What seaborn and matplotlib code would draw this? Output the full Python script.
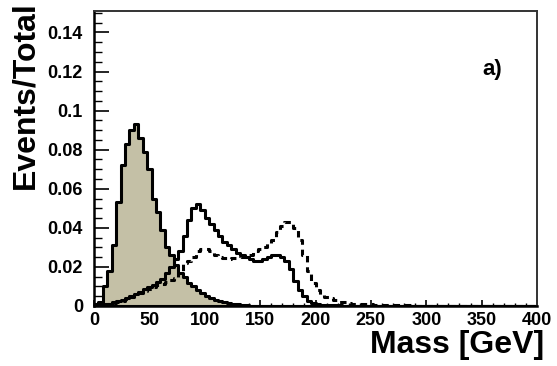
import numpy as np
import pandas as pd
import seaborn as sns
import matplotlib
matplotlib.use("Agg")
import matplotlib.pyplot as plt
from matplotlib.ticker import MultipleLocator, FuncFormatter

# 4 GeV bins from 0 to 400 GeV
bin_width = 4
mass_range = (0, 400)

# Shaded distribution (normalised to unit area)
shaded = [
    0.001, 0.002, 0.010, 0.018, 0.031, 0.053, 0.072, 0.083, 0.090, 0.093,
    0.086, 0.079, 0.070, 0.055, 0.048, 0.039, 0.030, 0.026, 0.021, 0.017,
    0.015, 0.012, 0.010, 0.008, 0.0065, 0.005, 0.004, 0.003, 0.0025, 0.002,
    0.0015, 0.001, 0.0008, 0.0005, 0.0003,
]

# Solid-line distribution
solid = [
    0.0, 0.0003, 0.0008, 0.0012, 0.0018, 0.0025, 0.0032, 0.0042, 0.0052, 0.0062,
    0.0072, 0.0085, 0.0098, 0.011, 0.0125, 0.014, 0.017, 0.020, 0.024, 0.028,
    0.036, 0.044, 0.050, 0.052, 0.049, 0.045, 0.042, 0.039, 0.036, 0.033,
    0.031, 0.029, 0.027, 0.026, 0.025, 0.024, 0.023, 0.023, 0.024, 0.025,
    0.026, 0.026, 0.025, 0.023, 0.019, 0.013, 0.008, 0.005, 0.0025, 0.0015,
    0.001, 0.0007, 0.0005, 0.0004, 0.0003, 0.0003, 0.0002, 0.0002, 0.0002, 0.0001,
    0.0001, 0.0001, 0.0001, 0.0001, 0.0001,
]

# Dashed-line distribution
dashed = [
    0.0, 0.0002, 0.0005, 0.001, 0.0015, 0.002, 0.0028, 0.0035, 0.0045, 0.0055,
    0.0065, 0.0075, 0.0085, 0.0095, 0.0105, 0.0115, 0.0125, 0.0135, 0.0145, 0.017,
    0.022, 0.023, 0.025, 0.028, 0.029, 0.029, 0.028, 0.026, 0.025, 0.0245,
    0.024, 0.0245, 0.0245, 0.025, 0.025, 0.026, 0.028, 0.029, 0.030, 0.032,
    0.034, 0.038, 0.041, 0.043, 0.043, 0.040, 0.034, 0.026, 0.018, 0.012,
    0.008, 0.0055, 0.0045, 0.004, 0.003, 0.002, 0.0018, 0.0015, 0.0012, 0.001,
    0.001, 0.0009, 0.0008, 0.0007, 0.0006, 0.0005, 0.0005, 0.0004, 0.0004, 0.0003,
    0.0003, 0.0003, 0.0002, 0.0002, 0.0002,
]

x_ticks = [0, 50, 100, 150, 200, 250, 300, 350, 400]
y_ticks = [0, 0.02, 0.04, 0.06, 0.08, 0.1, 0.12, 0.14]


def to_frame(values):
    n = int((mass_range[1] - mass_range[0]) / bin_width)
    w = np.zeros(n)
    w[: len(values)] = values
    centers = mass_range[0] + bin_width * (np.arange(n) + 0.5)
    return pd.DataFrame({"mass": centers, "frac": w})


sns.set_style("white")
plt.rcParams["font.family"] = ["Liberation Sans", "DejaVu Sans"]
plt.rcParams["font.weight"] = "bold"
for key in ["text.color", "axes.labelcolor", "xtick.color", "ytick.color"]:
    plt.rcParams[key] = "black"

fig = plt.figure(figsize=(5.57, 3.66), dpi=100)
ax = fig.add_axes([94 / 557, 60 / 366, 443 / 557, 295 / 366])

hist_kw = dict(x="mass", weights="frac", binwidth=bin_width,
               binrange=mass_range, element="step", ax=ax)

sns.histplot(data=to_frame(shaded), fill=True, color="#c4c0a6", alpha=1.0,
             edgecolor="black", linewidth=2.2, **hist_kw)
sns.histplot(data=to_frame(solid), fill=False, color="black", linewidth=2.2,
             **hist_kw)
sns.histplot(data=to_frame(dashed), fill=False, color="black", linewidth=2.2,
             linestyle=(0, (2.1, 1.6)), **hist_kw)

ax.set_xlim(0, 400)
ax.set_ylim(0, 0.151)
ax.set_xlabel("")
ax.set_ylabel("")

ax.set_xticks(x_ticks)
ax.set_yticks(y_ticks)
ax.xaxis.set_minor_locator(MultipleLocator(10))
ax.yaxis.set_minor_locator(MultipleLocator(0.005))
ax.yaxis.set_major_formatter(FuncFormatter(lambda v, p: "%g" % round(v, 3)))
ax.tick_params(axis="x", which="major", direction="in", length=4.5, width=1.2,
               labelsize=13, pad=4, bottom=True, colors="black")
ax.tick_params(axis="x", which="minor", direction="in", length=2.5, width=1.0,
               bottom=True, colors="black")
ax.tick_params(axis="y", which="major", direction="in", length=11, width=1.2,
               labelsize=13, pad=8, left=True, colors="black")
ax.tick_params(axis="y", which="minor", direction="in", length=6, width=1.0,
               left=True, colors="black")
for lab in ax.get_xticklabels() + ax.get_yticklabels():
    lab.set_fontweight("bold")

for side in ["left", "bottom"]:
    ax.spines[side].set_linewidth(1.8)
    ax.spines[side].set_color("black")
for side in ["top", "right"]:
    ax.spines[side].set_linewidth(1.4)
    ax.spines[side].set_color("#333333")

ax.text(0.877, 0.80, "a)", transform=ax.transAxes, fontsize=16,
        fontweight="bold", ha="left", va="center")

fig.text(25 / 557, 1 - 1 / 366, "Events/Total", rotation=90, ha="center",
         va="top", fontsize=23, fontweight="bold")
fig.text(544 / 557, 6 / 366, "Mass [GeV]", ha="right", va="bottom",
         fontsize=23, fontweight="bold")

fig.savefig("out.png", dpi=100)
